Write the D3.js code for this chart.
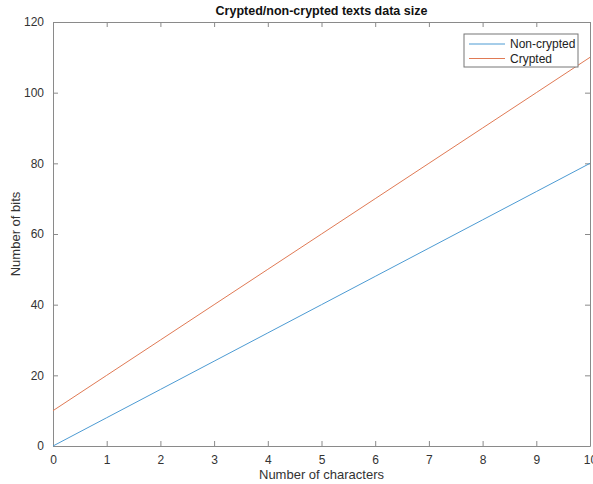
<!DOCTYPE html>
<html><head><meta charset="utf-8">
<script src="https://cdn.jsdelivr.net/npm/d3@7"></script>
<style>body{margin:0;background:#fff}svg{display:block}text{font-family:Helvetica,"Liberation Sans",Arial,sans-serif}</style>
</head><body>
<svg id="c" width="593" height="484"></svg>
<script>
const characters = [0,1,2,3,4,5,6,7,8,9,10];
const nonCrypted = [0,8,16,24,32,40,48,56,64,72,80];
const crypted = [10,20,30,40,50,60,70,80,90,100,110];
const xTicks = [0,1,2,3,4,5,6,7,8,9,10];
const yTicks = [0,20,40,60,80,100,120];
const seriesNames = ["Non-crypted","Crypted"];
const seriesColors = ["#4d9bd3","#e07a55"];

const svg = d3.select("#c");
const L=53, R=590, T=22, B=446;
const x = d3.scaleLinear().domain([0,10]).range([L,R]);
const y = d3.scaleLinear().domain([0,120]).range([B,T]);
const axisColor="#8a8a8a", labelColor="#333";

const g = svg.append("g");
// axes
const ax = g.append("g").attr("transform",`translate(0,${B})`).call(d3.axisBottom(x).tickValues(xTicks).tickSizeInner(-5).tickSizeOuter(0).tickPadding(9));
const axT = g.append("g").attr("transform",`translate(0,${T})`).call(d3.axisTop(x).tickValues(xTicks).tickSizeInner(-5).tickSizeOuter(0).tickFormat(""));
const ay = g.append("g").attr("transform",`translate(${L},0)`).call(d3.axisLeft(y).tickValues(yTicks).tickSizeInner(-5).tickSizeOuter(0).tickPadding(9));
const ayR = g.append("g").attr("transform",`translate(${R},0)`).call(d3.axisRight(y).tickValues(yTicks).tickSizeInner(-5).tickSizeOuter(0).tickFormat(""));
[ax,axT,ay,ayR].forEach(a=>{
  a.selectAll("path,line").attr("stroke",axisColor);
  a.selectAll("text").attr("fill",labelColor).style("font-size","12px");
});

const line = d3.line().x((d,i)=>x(characters[i])).y(d=>y(d));
[nonCrypted,crypted].forEach((s,i)=>{
  g.append("path").datum(s).attr("d",line).attr("fill","none").attr("stroke",seriesColors[i]).attr("stroke-width",1);
});

svg.append("text").attr("x",(L+R)/2).attr("y",15).attr("text-anchor","middle").style("font-size","12.5px").style("font-weight","bold").attr("fill","#111").text("Crypted/non-crypted texts data size");
svg.append("text").attr("x",(L+R)/2).attr("y",479).attr("text-anchor","middle").style("font-size","13px").attr("fill",labelColor).text("Number of characters");
svg.append("text").attr("transform",`translate(20,${(T+B)/2}) rotate(-90)`).attr("text-anchor","middle").style("font-size","13px").attr("fill",labelColor).text("Number of bits");

// legend
const lg = svg.append("g");
lg.append("rect").attr("x",464).attr("y",34).attr("width",114).attr("height",33).attr("fill","#fff").attr("stroke","#777").attr("stroke-width",1);
seriesNames.forEach((n,i)=>{
  const yy = 44 + i*14.5;
  lg.append("line").attr("x1",469).attr("x2",505).attr("y1",yy).attr("y2",yy).attr("stroke",seriesColors[i]).attr("stroke-width",1);
  lg.append("text").attr("x",510).attr("y",yy+4).style("font-size","12px").attr("fill","#222").text(n);
});
</script>
</body></html>
